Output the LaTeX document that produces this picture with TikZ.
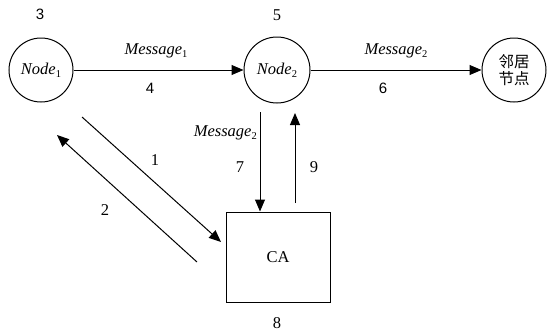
\documentclass[tikz,border=0pt]{standalone}
\usepackage{fontspec}
\setmainfont{Liberation Serif}
\newfontfamily\cjk{Noto Sans CJK SC}
\newfontfamily\sansf{Liberation Sans}
\usetikzlibrary{arrows.meta}
\newcommand\mysubs[1]{\raisebox{-0.35ex}{\fontsize{10.5}{10.5}\selectfont\upshape #1}}
\begin{document}
\begin{tikzpicture}[x=1pt,y=-1pt,
  every node/.style={font=\fontsize{16.5}{18}\selectfont},
  circ/.style={draw,circle,line width=1pt,inner sep=0pt,minimum size=64pt},
  box/.style={draw,line width=1pt,minimum width=104pt,minimum height=90pt,inner sep=0pt},
  arr/.style={line width=1pt,-{Triangle[length=12pt,width=10pt]}},
  lbl/.style={inner sep=0pt}]
\useasboundingbox (0,0) rectangle (547,333);
\node[circ] (n1) at (41,70) {\itshape Node\mysubs{1}};
\node[circ,minimum size=66pt] (n2) at (277,70) {\itshape Node\mysubs{2}};
\node[circ] (n3) at (514,70) {\cjk\fontsize{15.5}{18}\selectfont\shortstack{邻居\\节点}};
\node[box] (ca) at (278,257) {CA};
\draw[arr] (n1) -- (n2);
\draw[arr] (n2) -- (n3);
\coordinate (d1) at (260,112);
\coordinate (u1) at (295,203);
\coordinate (u2) at (295,113);
\draw[arr] (d1) -- (d1 |- ca.north);
\draw[arr] (u1) -- (u2);
\coordinate (a1) at (82,117);
\coordinate (a2) at (221,242);
\coordinate (b1) at (197,262);
\coordinate (b2) at (57,135);
\draw[arr] (a1) -- (a2);
\draw[arr] (b1) -- (b2);
\node[lbl] (t3) at (40,14) {\sansf\fontsize{15}{17}\selectfont 3};
\node[lbl] (t5) at (277,15) {5};
\node[lbl] (m1) at (156,51) {\itshape Message\mysubs{1}};
\node[lbl] (t4) at (150,88) {\sansf\fontsize{15}{17}\selectfont 4};
\node[lbl] (m2) at (396,51) {\itshape Message\mysubs{2}};
\node[lbl] (t6) at (383,88) {\sansf\fontsize{15}{17}\selectfont 6};
\node[lbl] (t1) at (155,160) {1};
\node[lbl] (t2) at (105,210) {2};
\node[lbl,anchor=east] (m3) at (257,133) {\itshape Message\mysubs{2}};
\node[lbl] (t7) at (240,167) {7};
\node[lbl] (t9) at (314,167) {9};
\node[lbl] (t8) at (277,323) {8};
\end{tikzpicture}
\end{document}
